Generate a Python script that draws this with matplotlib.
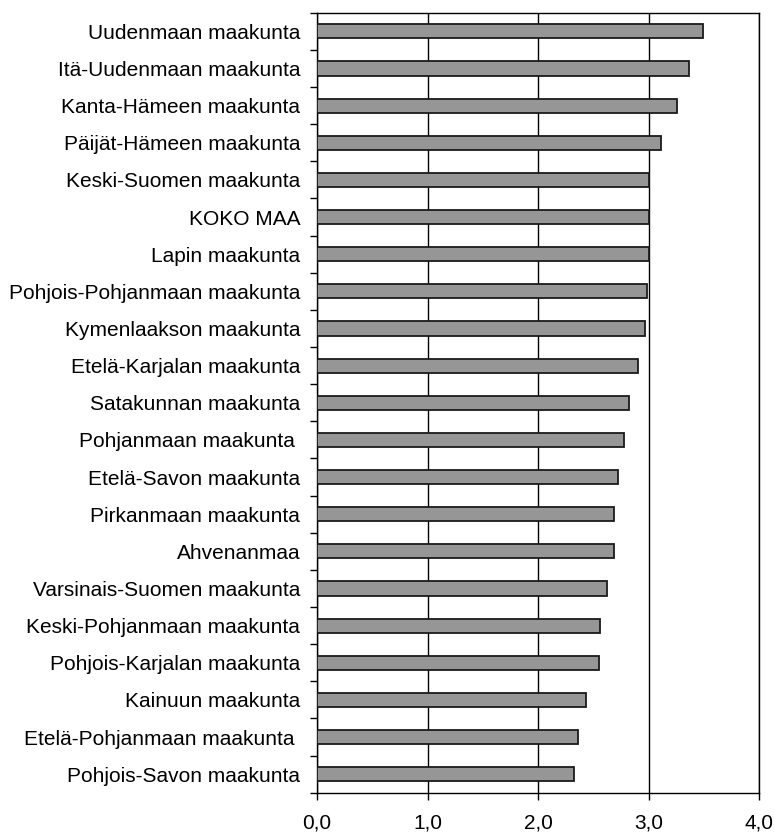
import matplotlib
matplotlib.use("Agg")
import matplotlib.pyplot as plt
from matplotlib.ticker import FixedLocator, FuncFormatter

regions = [
    "Uudenmaan maakunta", "Itä-Uudenmaan maakunta", "Kanta-Hämeen maakunta",
    "Päijät-Hämeen maakunta", "Keski-Suomen maakunta", "KOKO MAA",
    "Lapin maakunta", "Pohjois-Pohjanmaan maakunta", "Kymenlaakson maakunta",
    "Etelä-Karjalan maakunta", "Satakunnan maakunta", "Pohjanmaan maakunta ",
    "Etelä-Savon maakunta", "Pirkanmaan maakunta", "Ahvenanmaa",
    "Varsinais-Suomen maakunta", "Keski-Pohjanmaan maakunta",
    "Pohjois-Karjalan maakunta", "Kainuun maakunta",
    "Etelä-Pohjanmaan maakunta ", "Pohjois-Savon maakunta",
]
values = [3.49, 3.36, 3.26, 3.11, 3.00, 3.00, 3.00, 2.98, 2.97, 2.90, 2.82,
          2.78, 2.72, 2.69, 2.69, 2.62, 2.56, 2.55, 2.43, 2.36, 2.32]
x_ticks = [0, 1, 2, 3, 4]

plt.rcParams['font.family'] = ['Liberation Sans', 'DejaVu Sans']

fig = plt.figure(figsize=(7.74, 8.32), dpi=100)
ax = fig.add_axes([0.4096, 0.0472, 0.5714, 0.9375])

pos = list(range(len(regions)))
ax.barh(pos, values, height=0.38, color="#969696", edgecolor="#1a1a1a",
        linewidth=1.3, zorder=3)

ax.set_xlim(0, 4)
ax.set_ylim(len(regions) - 0.5, -0.5)

ax.xaxis.set_major_locator(FixedLocator(x_ticks))
ax.xaxis.set_major_formatter(FuncFormatter(lambda v, p: f"{v:.1f}".replace(".", ",")))
ax.tick_params(axis="x", direction="out", length=5, width=1, pad=10,
               labelsize=15, color="black")

# boundaries between categories get the tick marks, labels sit at the bar centres
ax.yaxis.set_major_locator(FixedLocator([p - 0.5 for p in range(len(regions) + 1)]))
ax.yaxis.set_major_formatter(FuncFormatter(lambda v, p: ""))
ax.set_yticks(pos, labels=regions, minor=True)
ax.tick_params(axis="y", which="major", direction="out", length=5, width=1)
ax.tick_params(axis="y", which="minor", length=0, pad=12, labelsize=15)

ax.grid(axis="x", color="black", linewidth=1, zorder=1)
for s in ax.spines.values():
    s.set_linewidth(1)
    s.set_color("black")

fig.savefig("out.png", dpi=100)
